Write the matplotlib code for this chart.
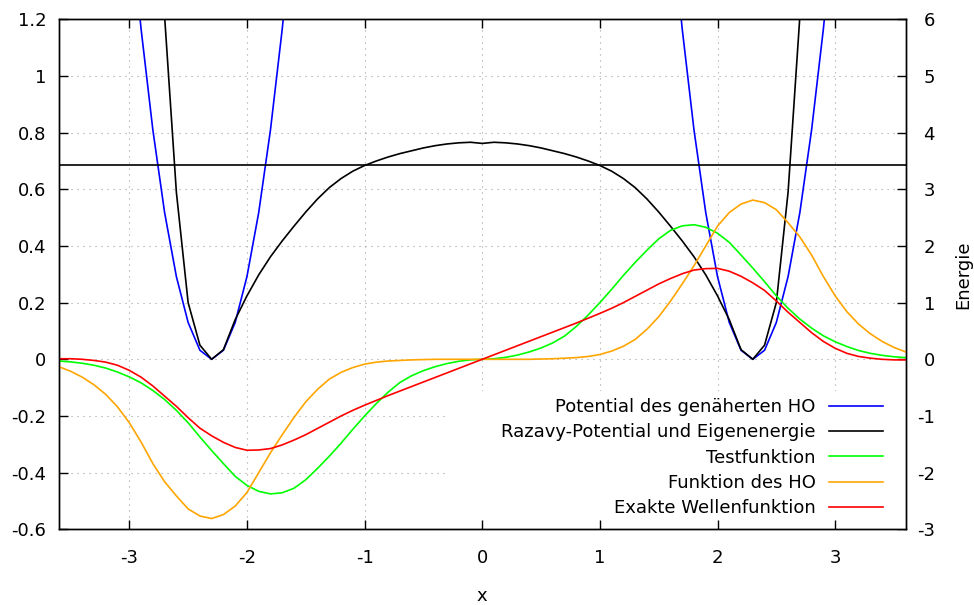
import numpy as np
import matplotlib

matplotlib.use("Agg")
import matplotlib.pyplot as plt
from matplotlib.lines import Line2D
from matplotlib.patches import Rectangle

nan = np.nan

# ---- sample positions (x) --------------------------------------------------
X = [-3.6, -3.5, -3.4, -3.3, -3.2, -3.1, -3.0, -2.9, -2.8, -2.7, -2.6, -2.5,
     -2.4, -2.3, -2.2, -2.1, -2.0, -1.9, -1.8, -1.7, -1.6, -1.5, -1.4, -1.3,
     -1.2, -1.1, -1.0, -0.9, -0.8, -0.7, -0.6, -0.5, -0.4, -0.3, -0.2, -0.1,
     0.0,
     0.1, 0.2, 0.3, 0.4, 0.5, 0.6, 0.7, 0.8, 0.9, 1.0, 1.1, 1.2,
     1.3, 1.4, 1.5, 1.6, 1.7, 1.8, 1.9, 2.0, 2.1, 2.2, 2.3, 2.4,
     2.5, 2.6, 2.7, 2.8, 2.9, 3.0, 3.1, 3.2, 3.3, 3.4, 3.5, 3.6]

# ---- potentials (right axis, Energie) -------------------------------------
HO_POT = [nan, nan, nan, nan, nan, nan, 7.94, 5.83, 4.05, 2.59, 1.46, 0.65,
          0.16, 0.00, 0.16, 0.65, 1.46, 2.59, 4.05, 5.83, 7.94, nan, nan, nan,
          nan, nan, nan, nan, nan, nan, nan, nan, nan, nan, nan, nan,
          nan,
          nan, nan, nan, nan, nan, nan, nan, nan, nan, nan, nan, nan,
          nan, nan, nan, 7.94, 5.83, 4.05, 2.59, 1.46, 0.65, 0.16, 0.00, 0.16,
          0.65, 1.46, 2.59, 4.05, 5.83, 7.94, nan, nan, nan, nan, nan, nan]

RAZAVY_POT = [nan, nan, nan, nan, nan, nan, nan, nan, 11.0, 6.05, 2.95, 1.00,
              0.25, 0.00, 0.17, 0.70, 1.12, 1.49, 1.81, 2.09, 2.35, 2.60, 2.83, 3.03,
              3.19, 3.32, 3.42, 3.50, 3.57, 3.63, 3.68, 3.73, 3.77, 3.80, 3.82, 3.83,
              3.81,
              3.83, 3.82, 3.80, 3.77, 3.73, 3.68, 3.63, 3.57, 3.50, 3.42, 3.32, 3.19,
              3.03, 2.83, 2.60, 2.35, 2.09, 1.81, 1.49, 1.12, 0.70, 0.17, 0.00, 0.25,
              1.00, 2.95, 6.05, 11.0, nan, nan, nan, nan, nan, nan, nan, nan]

EIGEN_E = 3.43

# ---- wave functions (left axis) -------------------------------------------
TEST_FN = [-0.006, -0.009, -0.014, -0.021, -0.031, -0.045, -0.062, -0.083,
           -0.110, -0.142, -0.180, -0.224, -0.274, -0.322, -0.368, -0.413,
           -0.445, -0.466, -0.475, -0.471, -0.455, -0.425, -0.385, -0.342,
           -0.296, -0.247, -0.200, -0.156, -0.116, -0.082, -0.058, -0.040,
           -0.026, -0.015, -0.007, -0.002,
           0.000,
           0.002, 0.007, 0.015, 0.026, 0.040, 0.058, 0.082, 0.116, 0.156,
           0.200, 0.247, 0.296, 0.342, 0.385, 0.425, 0.455, 0.471, 0.475,
           0.466, 0.445, 0.413, 0.368, 0.322, 0.274, 0.224, 0.180, 0.142,
           0.110, 0.083, 0.062, 0.045, 0.031, 0.021, 0.014, 0.009, 0.006]

HO_FN = [-0.026, -0.042, -0.063, -0.090, -0.124, -0.168, -0.224, -0.292,
         -0.368, -0.432, -0.482, -0.528, -0.553, -0.562, -0.548, -0.518,
         -0.470, -0.400, -0.330, -0.266, -0.205, -0.150, -0.106, -0.070,
         -0.046, -0.029, -0.017, -0.010, -0.006, -0.004, -0.002, -0.001,
         0.000, 0.000, 0.000, 0.000,
         0.000,
         0.000, 0.000, 0.000, 0.000, 0.001, 0.002, 0.004, 0.006, 0.010,
         0.017, 0.029, 0.046, 0.070, 0.106, 0.150, 0.205, 0.266, 0.330,
         0.400, 0.470, 0.518, 0.548, 0.562, 0.553, 0.528, 0.482, 0.432,
         0.368, 0.292, 0.224, 0.168, 0.124, 0.090, 0.063, 0.042, 0.026]

EXACT_FN = [0.002, 0.002, 0.000, -0.004, -0.010, -0.021, -0.039, -0.063,
            -0.094, -0.130, -0.166, -0.206, -0.243, -0.270, -0.293, -0.311,
            -0.321, -0.320, -0.315, -0.302, -0.285, -0.266, -0.244, -0.222,
            -0.200, -0.180, -0.162, -0.145, -0.128, -0.112, -0.096, -0.080,
            -0.064, -0.048, -0.032, -0.016,
            0.000,
            0.016, 0.032, 0.048, 0.064, 0.080, 0.096, 0.112, 0.128, 0.145,
            0.162, 0.180, 0.200, 0.222, 0.244, 0.266, 0.285, 0.302, 0.315,
            0.320, 0.321, 0.311, 0.293, 0.270, 0.243, 0.206, 0.166, 0.130,
            0.094, 0.063, 0.039, 0.021, 0.010, 0.004, 0.000, -0.002, -0.002]

LABELS = ["Potential des genäherten HO", "Razavy-Potential und Eigenenergie",
          "Testfunktion", "Funktion des HO", "Exakte Wellenfunktion"]
COLORS = ["#0000ff", "#000000", "#00ff00", "#ffa500", "#ff0000"]

XTICKS = [-3, -2, -1, 0, 1, 2, 3]
YTICKS = [-0.6, -0.4, -0.2, 0, 0.2, 0.4, 0.6, 0.8, 1, 1.2]
Y2TICKS = [-3, -2, -1, 0, 1, 2, 3, 4, 5, 6]

plt.rcParams["font.family"] = "DejaVu Sans"
plt.rcParams["axes.unicode_minus"] = False
FS = 13
LW = 1.2

fig = plt.figure(figsize=(9.74, 6.05), dpi=100)
ax = fig.add_axes([0.0603, 0.1251, 0.8696, 0.8430])
ax2 = ax.twinx()
# wave functions on top of the potentials
ax.set_zorder(ax2.get_zorder() + 1)
ax.patch.set_visible(False)

# potentials + grid live on the lower (right-axis) layer
ax2.xaxis.set_visible(True)
ax2.set_axisbelow(True)
ax2.grid(True, color="#a0a0a0", linestyle=(0, (1, 4.4)), linewidth=0.8)
ax2.add_patch(Rectangle((0.4584, 0.0), 0.5416, 0.2706, transform=ax2.transAxes,
                        facecolor="white", edgecolor="none", zorder=1))
ax2.plot(X, HO_POT, color=COLORS[0], lw=LW, zorder=2)
ax2.plot(X, RAZAVY_POT, color=COLORS[1], lw=LW, zorder=2)
ax2.axhline(EIGEN_E, color=COLORS[1], lw=LW, zorder=2)

ax.plot(X, TEST_FN, color=COLORS[2], lw=LW)
ax.plot(X, HO_FN, color=COLORS[3], lw=LW)
ax.plot(X, EXACT_FN, color=COLORS[4], lw=LW)

ax.set_xlim(-3.6, 3.6)
ax.set_ylim(-0.6, 1.2)
ax2.set_ylim(-3, 6)
ax.set_xticks(XTICKS)
ax.set_xticklabels([f"{v:g}" for v in XTICKS])
ax.set_yticks(YTICKS)
ax.set_yticklabels([f"{v:g}" for v in YTICKS])
ax2.set_yticks(Y2TICKS)
ax2.set_yticklabels([f"{v:g}" for v in Y2TICKS])

ax.tick_params(axis="x", direction="in", length=6.5, width=1, top=True,
               labelsize=FS, pad=14)
ax.tick_params(axis="y", direction="in", length=6.5, width=1, left=True,
               right=False, labelsize=FS, pad=9)
ax2.tick_params(axis="x", bottom=False, top=False, labelbottom=False,
                labeltop=False)
ax2.tick_params(axis="y", direction="in", length=6.5, width=1, labelsize=FS,
                pad=21)
plt.setp(ax2.get_yticklabels(), ha="right")

for a in (ax, ax2):
    for sp in a.spines.values():
        sp.set_linewidth(1.0)

ax.set_xlabel("x", fontsize=FS, labelpad=14.5)
ax2.set_ylabel("Energie", fontsize=FS, labelpad=14)

handles = [Line2D([], [], color=c, lw=LW) for c in COLORS]
ax.legend(handles, LABELS, loc="lower right", bbox_to_anchor=(0.9728, 0.024),
          frameon=False, markerfirst=False, fontsize=FS, handlelength=2.97,
          handletextpad=0.74, labelspacing=0.40, borderpad=0, borderaxespad=0)

fig.savefig("out.png", dpi=100)
